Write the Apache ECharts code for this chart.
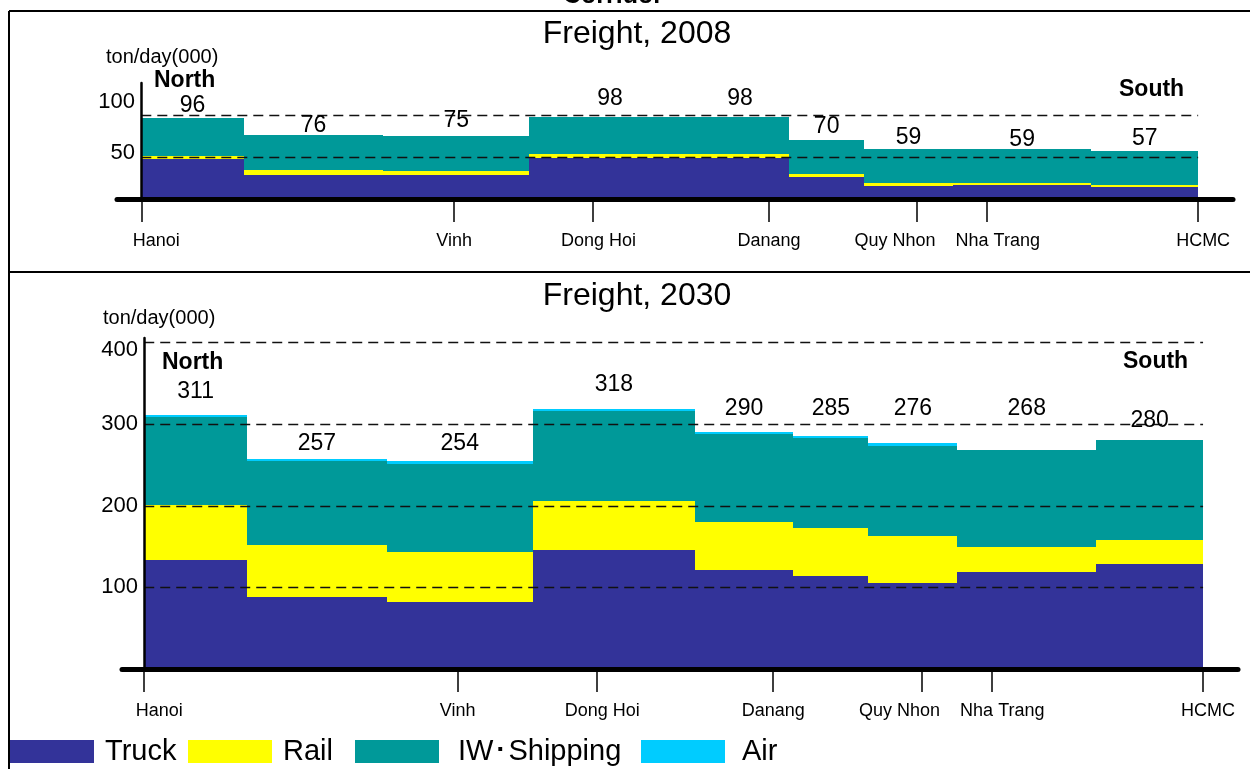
<!DOCTYPE html>
<html>
<head>
<meta charset="utf-8">
<title>Corridor Freight</title>
<script src="https://cdn.jsdelivr.net/npm/echarts@6/dist/echarts.min.js"></script>
<style>
  html, body { margin: 0; padding: 0; background: #ffffff; }
  #chart { width: 1250px; height: 769px; }
</style>
</head>
<body>
<div id="chart"></div>
<script>
// Corridor sections, measured along the route (Hanoi = 0, HCMC = 1000)
const segmentEdges = [0, 97, 229, 367, 520, 613, 684, 768, 899, 1000];
const cityNames = ['Hanoi', 'Vinh', 'Dong Hoi', 'Danang', 'Quy Nhon', 'Nha Trang', 'HCMC'];
const cityPositions = [0, 296, 427, 594, 734, 800, 1000];

const modes = ['Truck', 'Rail', 'IW\uFF65Shipping', 'Air'];

// Freight volume per section, ton/day (000) — 2008
const truck2008 = [47, 29, 28, 49, 49, 26, 16, 17, 14];
const rail2008  = [4, 6, 5, 4, 4, 4, 3, 2, 3];
const ship2008  = [45, 41, 42, 45, 45, 40, 40, 40, 40];
const air2008   = [0, 0, 0, 0, 0, 0, 0, 0, 0];

// Freight volume per section, ton/day (000) — 2030
const truck2030 = [133, 88, 82, 146, 121, 114, 105, 119, 129];
const rail2030  = [68, 64, 61, 59, 59, 58, 58, 30, 29];
const ship2030  = [107, 103, 108, 111, 108, 111, 110, 119, 122];
const air2030   = [3, 2, 3, 2, 2, 2, 3, 0, 0];

const yTicks2008 = [50, 100];
const yTicks2030 = [100, 200, 300, 400];

// ---- styling ----
const FONT = '"Liberation Sans", Arial, Helvetica, sans-serif';
const modeColors = ['#333399', '#FFFF00', '#009999', '#00CCFF'];
const cityLabelShift = [15, 0, 6, 0, -22, 11, 5];          // px nudges of the city names
const totalLift2008 = [13, 9, 15, 18, 18, 14, 12, 10, 12]; // px above each section top
const totalLift2030 = [23, 15, 18, 24, 23, 27, 35, 41, 20];
const yLabelLift2008 = { 50: 4, 100: 13 };                 // px, positive = up
const yLabelLift2030 = { 400: -8 };
const legendLeft = [10, 188, 355, 641];
const legendTextGap = [6, 6, 14, 12];

function renderBlock(params, api) {
  const a = api.coord([api.value(0), api.value(2)]);
  const b = api.coord([api.value(1), api.value(3)]);
  const x0 = Math.round(a[0]), x1 = Math.round(b[0]);
  const yb = Math.round(a[1]), yt = Math.round(b[1]);
  return {
    type: 'rect',
    shape: { x: x0, y: yt, width: x1 - x0, height: yb - yt },
    style: { fill: api.visual('color') }
  };
}

function renderTotal(params, api) {
  const p = api.coord([api.value(0), api.value(1)]);
  return {
    type: 'text',
    x: p[0],
    y: p[1] - api.value(2),
    style: {
      text: String(api.value(1)),
      fill: '#000',
      font: '23px ' + FONT,
      align: 'center',
      verticalAlign: 'middle'
    }
  };
}

function renderGridLine(params, api) {
  const a = api.coord([api.value(0), api.value(1)]);
  const b = api.coord([api.value(2), api.value(1)]);
  const y = Math.round(a[1]) + 0.5;
  return {
    type: 'line',
    shape: { x1: a[0], y1: y, x2: b[0], y2: y },
    style: { stroke: '#111', lineWidth: 1.7, lineDash: [10, 6] }
  };
}

function panelSeries(idx, layers, yTicks, lifts) {
  const out = [];
  const running = segmentEdges.slice(1).map(() => 0);
  layers.forEach((vals, k) => {
    const data = vals.map((v, i) => {
      const item = [segmentEdges[i], segmentEdges[i + 1], running[i], running[i] + v];
      running[i] += v;
      return item;
    });
    out.push({
      type: 'custom', name: modes[k], xAxisIndex: idx, yAxisIndex: idx,
      itemStyle: { color: modeColors[k] },
      renderItem: renderBlock, encode: { x: [0, 1], y: [2, 3] },
      data: data, z: 2, silent: true
    });
  });
  // dashed reference lines, drawn over the blocks
  out.push({
    type: 'custom', name: 'grid' + idx, xAxisIndex: idx, yAxisIndex: idx,
    renderItem: renderGridLine, encode: { x: [0, 2], y: 1 },
    data: yTicks.map(v => [segmentEdges[0], v, segmentEdges[segmentEdges.length - 1]]),
    z: 3, silent: true
  });
  // section totals
  out.push({
    type: 'custom', name: 'total' + idx, xAxisIndex: idx, yAxisIndex: idx,
    renderItem: renderTotal, encode: { x: 0, y: 1 },
    data: running.map((t, i) => [(segmentEdges[i] + segmentEdges[i + 1]) / 2, t, lifts[i]]),
    z: 4, silent: true
  });
  return out;
}

const cityRich = {};
cityLabelShift.forEach((s, i) => {
  cityRich['c' + i] = {
    fontSize: 18, color: '#000', fontFamily: FONT,
    padding: s >= 0 ? [0, 0, 0, 2 * s] : [0, -2 * s, 0, 0]
  };
});

function xAxisFor(idx, min, max) {
  return {
    type: 'value', gridIndex: idx, min: min, max: max, z: 5,
    splitLine: { show: false },
    axisLine: { show: true, lineStyle: { color: '#000', width: 5 } },
    axisTick: { show: true, customValues: cityPositions, length: 23, lineStyle: { color: '#000', width: 1.5 } },
    axisLabel: {
      show: true, customValues: cityPositions, margin: 33,
      formatter: v => {
        const i = cityPositions.indexOf(v);
        return '{c' + i + '|' + cityNames[i] + '}';
      },
      rich: cityRich
    }
  };
}

function yAxisFor(idx, max, ticks, margin, lifts) {
  const rich = {};
  ticks.forEach(t => {
    const l = lifts[t] || 0;
    rich['v' + t] = {
      fontSize: 22, color: '#000', fontFamily: FONT,
      padding: l >= 0 ? [0, 0, 2 * l, 0] : [-2 * l, 0, 0, 0]
    };
  });
  return {
    type: 'value', gridIndex: idx, min: 0, max: max, z: 5,
    splitLine: { show: false },
    axisLine: { show: true, onZero: true, lineStyle: { color: '#000', width: 2.5 } },
    axisTick: { show: false },
    axisLabel: {
      show: true, customValues: ticks, margin: margin,
      formatter: v => '{v' + v + '|' + v + '}',
      rich: rich
    }
  };
}

const legends = modes.map((name, k) => ({
  data: [name], left: legendLeft[k], top: 737, icon: 'rect',
  itemWidth: 84, itemHeight: 23, padding: 0, selectedMode: false,
  textStyle: { fontSize: 29, color: '#000', fontFamily: FONT, padding: [0, 0, 0, legendTextGap[k]] }
}));

const chart = echarts.init(document.getElementById('chart'), null, { renderer: 'canvas' });

const option = {
  backgroundColor: '#ffffff',
  animation: false,
  textStyle: { fontFamily: FONT, color: '#000' },
  title: [
    { text: 'Freight, 2008', left: 632, top: 13, textAlign: 'center',
      textStyle: { fontSize: 32, fontWeight: 'normal', color: '#000', fontFamily: FONT } },
    { text: 'Freight, 2030', left: 632, top: 275, textAlign: 'center',
      textStyle: { fontSize: 32, fontWeight: 'normal', color: '#000', fontFamily: FONT } }
  ],
  legend: legends,
  grid: [
    { left: 117, width: 1116, top: 83, height: 116 },
    { left: 122, width: 1116, top: 338, height: 331 }
  ],
  xAxis: [xAxisFor(0, -23, 1033), xAxisFor(1, -21, 1033)],
  yAxis: [yAxisFor(0, 138, yTicks2008, -18, yLabelLift2008), yAxisFor(1, 405, yTicks2030, -16, yLabelLift2030)],
  series: [].concat(
    panelSeries(0, [truck2008, rail2008, ship2008, air2008], yTicks2008, totalLift2008),
    panelSeries(1, [truck2030, rail2030, ship2030, air2030], yTicks2030, totalLift2030)
  ),
  graphic: [
    { type: 'line', shape: { x1: 9, y1: 11, x2: 1250, y2: 11 }, style: { stroke: '#000', lineWidth: 2 }, silent: true },
    { type: 'line', shape: { x1: 9, y1: 272, x2: 1250, y2: 272 }, style: { stroke: '#000', lineWidth: 2 }, silent: true },
    { type: 'line', shape: { x1: 9, y1: 11, x2: 9, y2: 769 }, style: { stroke: '#000', lineWidth: 2 }, silent: true },
    { type: 'text', x: 613, y: -4, silent: true,
      style: { text: 'Corridor', font: 'bold 25px ' + FONT, fill: '#000', align: 'center', verticalAlign: 'middle' } },
    { type: 'text', x: 106, y: 57, silent: true,
      style: { text: 'ton/day(000)', font: '20px ' + FONT, fill: '#000', align: 'left', verticalAlign: 'middle' } },
    { type: 'text', x: 103, y: 318, silent: true,
      style: { text: 'ton/day(000)', font: '20px ' + FONT, fill: '#000', align: 'left', verticalAlign: 'middle' } },
    { type: 'text', x: 154, y: 81, silent: true,
      style: { text: 'North', font: 'bold 23px ' + FONT, fill: '#000', align: 'left', verticalAlign: 'middle' } },
    { type: 'text', x: 1119, y: 90, silent: true,
      style: { text: 'South', font: 'bold 23px ' + FONT, fill: '#000', align: 'left', verticalAlign: 'middle' } },
    { type: 'text', x: 162, y: 363, silent: true,
      style: { text: 'North', font: 'bold 23px ' + FONT, fill: '#000', align: 'left', verticalAlign: 'middle' } },
    { type: 'text', x: 1123, y: 362, silent: true,
      style: { text: 'South', font: 'bold 23px ' + FONT, fill: '#000', align: 'left', verticalAlign: 'middle' } }
  ]
};

chart.setOption(option);
</script>
</body>
</html>
